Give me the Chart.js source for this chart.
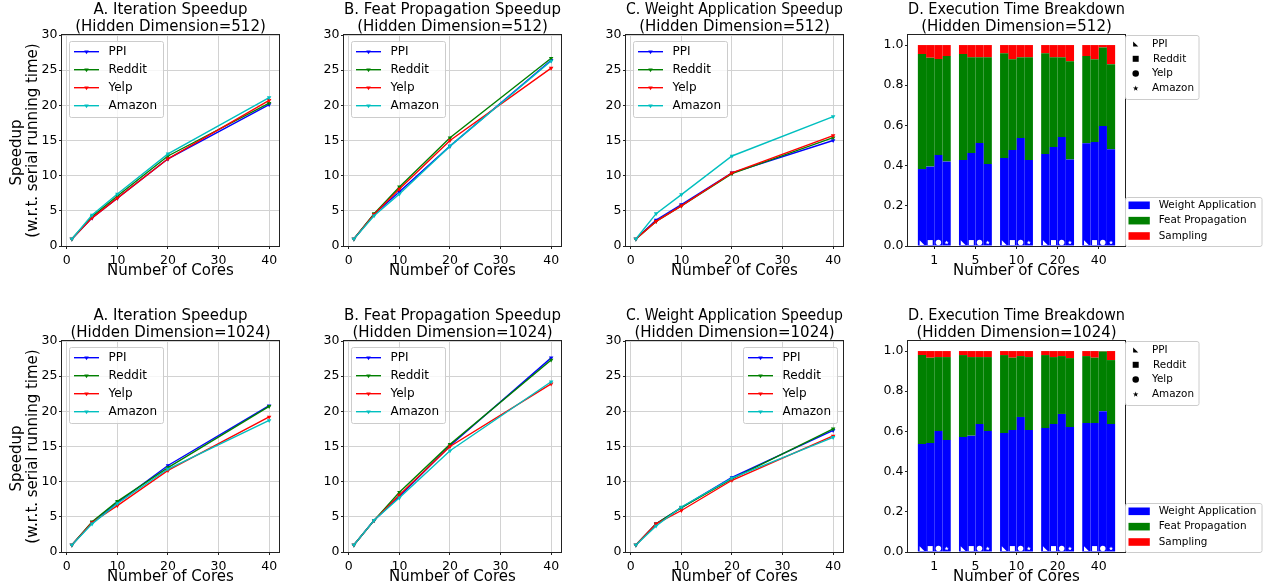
<!DOCTYPE html>
<html>
<head>
<meta charset="utf-8">
<script src="https://cdn.jsdelivr.net/npm/chart.js@4.4.0/dist/chart.umd.min.js"></script>
<style>
  html, body { margin: 0; padding: 0; background: #fff; overflow: hidden; }
  body { width: 1277px; height: 588px; position: relative; }
  canvas { position: absolute; }
</style>
</head>
<body>
<canvas id="iter512"></canvas>
<canvas id="feat512"></canvas>
<canvas id="weight512"></canvas>
<canvas id="break512"></canvas>
<canvas id="iter1024"></canvas>
<canvas id="feat1024"></canvas>
<canvas id="weight1024"></canvas>
<canvas id="break1024"></canvas>
<script>
const cores = [1, 5, 10, 20, 40];
const coreLabels = ['1', '5', '10', '20', '40'];
const graphs = ['PPI', 'Reddit', 'Yelp', 'Amazon'];
const lineColors = ['#0000ff', '#008000', '#ff0000', '#00bfbf'];
const partNames = ['Weight Application', 'Feat Propagation', 'Sampling'];
const partColors = ['#0000ff', '#008000', '#ff0000'];

// speedup per graph (rows follow graphs), one value per core count
const iterSpeedup512 = [
  [1, 4.0, 6.8, 12.4, 20.1],
  [1, 4.2, 7.1, 12.8, 20.3],
  [1, 4.0, 6.8, 12.4, 20.7],
  [1, 4.4, 7.4, 13.1, 21.1]
];
const featSpeedup512 = [
  [1, 4.5, 7.7, 14.2, 26.4],
  [1, 4.6, 8.4, 15.4, 26.7],
  [1, 4.5, 8.1, 15.0, 25.3],
  [1, 4.3, 7.4, 14.2, 26.3]
];
const weightSpeedup512 = [
  [1, 3.7, 5.9, 10.4, 15.0],
  [1, 3.5, 5.7, 10.3, 15.4],
  [1, 3.5, 5.7, 10.4, 15.7],
  [1, 4.6, 7.3, 12.8, 18.4]
];
const iterSpeedup1024 = [
  [1, 4.2, 7.0, 12.3, 20.8],
  [1, 4.3, 7.2, 12.0, 20.7],
  [1, 4.2, 6.6, 11.6, 19.2],
  [1, 4.0, 6.9, 11.8, 18.7]
];
const featSpeedup1024 = [
  [1, 4.5, 7.9, 15.1, 27.6],
  [1, 4.5, 8.5, 15.3, 27.3],
  [1, 4.5, 8.1, 15.0, 23.9],
  [1, 4.5, 7.7, 14.4, 24.2]
];
const weightSpeedup1024 = [
  [1, 4.0, 6.3, 10.6, 17.3],
  [1, 4.0, 6.3, 10.4, 17.5],
  [1, 4.0, 5.9, 10.2, 16.5],
  [1, 3.7, 6.4, 10.5, 16.3]
];

// execution time share per graph, one value per core count
const weightShare512 = [
  [0.383, 0.428, 0.438, 0.458, 0.511],
  [0.395, 0.463, 0.478, 0.493, 0.517],
  [0.453, 0.512, 0.537, 0.542, 0.597],
  [0.420, 0.408, 0.428, 0.431, 0.481]
];
const featShare512 = [
  [0.572, 0.527, 0.521, 0.501, 0.434],
  [0.542, 0.476, 0.451, 0.446, 0.412],
  [0.477, 0.427, 0.402, 0.397, 0.391],
  [0.525, 0.531, 0.511, 0.488, 0.424]
];
const samplingShare512 = [
  [0.045, 0.045, 0.041, 0.041, 0.055],
  [0.063, 0.061, 0.071, 0.061, 0.071],
  [0.070, 0.061, 0.061, 0.061, 0.012],
  [0.055, 0.061, 0.061, 0.081, 0.095]
];
const weightShare1024 = [
  [0.537, 0.572, 0.592, 0.617, 0.642],
  [0.542, 0.579, 0.607, 0.637, 0.642],
  [0.602, 0.637, 0.672, 0.687, 0.701],
  [0.557, 0.602, 0.607, 0.622, 0.637]
];
const featShare1024 = [
  [0.443, 0.408, 0.388, 0.363, 0.333],
  [0.425, 0.391, 0.360, 0.333, 0.325],
  [0.368, 0.333, 0.303, 0.288, 0.297],
  [0.413, 0.368, 0.363, 0.343, 0.318]
];
const samplingShare1024 = [
  [0.020, 0.020, 0.020, 0.020, 0.025],
  [0.033, 0.030, 0.033, 0.030, 0.033],
  [0.030, 0.030, 0.025, 0.025, 0.002],
  [0.030, 0.030, 0.030, 0.035, 0.045]
];

// layout of the 2x4 grid
const COLS = [
  { x: 0, w: 290, yW: 62, padR: 11 },
  { x: 290, w: 290, yW: 54, padR: 19 },
  { x: 580, w: 290, yW: 46, padR: 27 },
  { x: 860, w: 417, yW: 48, padR: 152 }
];
const ROWS = [0, 306];
const CANVAS_H = 290;
const X_AXIS_H = 44;

const FONT = "'DejaVu Sans', sans-serif";
Chart.defaults.font.family = FONT;
Chart.defaults.color = '#000';

const GRID = '#d2d2d2';
const SPINE = '#222';

function placeCanvas(id, col, row) {
  const c = document.getElementById(id);
  c.width = COLS[col].w;
  c.height = CANVAS_H;
  c.style.left = COLS[col].x + 'px';
  c.style.top = ROWS[row] + 'px';
  return c;
}

function triDown(ctx, x, y, r) {
  ctx.beginPath();
  ctx.moveTo(x - r * 0.866, y - r * 0.5);
  ctx.lineTo(x + r * 0.866, y - r * 0.5);
  ctx.lineTo(x, y + r);
  ctx.closePath();
  ctx.fill();
}

// marker per graph: PPI corner triangle, Reddit square, Yelp circle, Amazon star
function drawMarker(ctx, kind, x, y, r, color) {
  ctx.save();
  ctx.fillStyle = color;
  ctx.beginPath();
  if (kind === 0) {
    ctx.moveTo(x - r, y - r);
    ctx.lineTo(x - r, y + r);
    ctx.lineTo(x + r, y + r);
    ctx.closePath();
  } else if (kind === 1) {
    ctx.rect(x - r, y - r, 2 * r, 2 * r);
  } else if (kind === 2) {
    ctx.arc(x, y, r * 1.05, 0, Math.PI * 2);
  } else {
    const outer = r * 1.1, inner = r * 0.45;
    for (let k = 0; k < 10; k++) {
      const rad = k % 2 ? inner : outer;
      const ang = -Math.PI / 2 + k * Math.PI / 5;
      const px = x + rad * Math.cos(ang), py = y + rad * Math.sin(ang);
      k ? ctx.lineTo(px, py) : ctx.moveTo(px, py);
    }
    ctx.closePath();
  }
  ctx.fill();
  ctx.restore();
}

function legendBox(ctx, x, y, w, h) {
  ctx.save();
  ctx.beginPath();
  ctx.roundRect(x + 0.5, y + 0.5, w, h, 2);
  ctx.fillStyle = 'rgba(255,255,255,0.8)';
  ctx.fill();
  ctx.strokeStyle = '#cccccc';
  ctx.lineWidth = 1;
  ctx.stroke();
  ctx.restore();
}

const frame = {
  id: 'frame',
  afterDraw(chart) {
    const { ctx, chartArea: a } = chart;
    ctx.save();
    ctx.strokeStyle = SPINE;
    ctx.lineWidth = 1;
    ctx.strokeRect(a.left - 0.5, a.top - 0.5, a.right - a.left + 1, a.bottom - a.top + 1);
    ctx.restore();
  }
};

const lineLegend = {
  id: 'lineLegend',
  afterDraw(chart, args, opts) {
    const { ctx, chartArea: a } = chart;
    const w = 94, h = 76;
    const x = opts.side === 'right' ? a.right - 6 - w : a.left + 7;
    const y = a.top + 6;
    legendBox(ctx, x, y, w, h);
    ctx.save();
    ctx.font = '12px ' + FONT;
    ctx.textBaseline = 'middle';
    ctx.textAlign = 'left';
    chart.data.datasets.forEach((ds, i) => {
      const ry = y + 10.7 + i * 18;
      ctx.strokeStyle = ds.borderColor;
      ctx.lineWidth = 1.4;
      ctx.beginPath();
      ctx.moveTo(x + 5, ry);
      ctx.lineTo(x + 30, ry);
      ctx.stroke();
      ctx.fillStyle = ds.borderColor;
      triDown(ctx, x + 17.5, ry, 2.6);
      ctx.fillStyle = '#000';
      ctx.fillText(ds.label, x + 39.5, ry);
    });
    ctx.restore();
  }
};

const barMarkers = {
  id: 'barMarkers',
  afterDatasetsDraw(chart) {
    const { ctx } = chart;
    const y = chart.scales.y.getPixelForValue(0.017);
    const sizes = [2.35, 2.5, 2.6, 2.0];
    chart.data.datasets.forEach((ds, i) => {
      if (ds.part !== 0) return;
      chart.getDatasetMeta(i).data.forEach(bar => {
        drawMarker(ctx, ds.graphIndex, bar.x, y, sizes[ds.graphIndex], '#fff');
      });
    });
  }
};

const breakdownLegends = {
  id: 'breakdownLegends',
  afterDraw(chart) {
    const { ctx, chartArea: a } = chart;
    const sizes = [2.6, 3, 3.1, 2.6];
    ctx.save();
    ctx.font = '10.4px ' + FONT;
    ctx.textBaseline = 'middle';
    ctx.textAlign = 'left';

    let bx = a.right, by = a.top;
    legendBox(ctx, bx, by, 73.5, 64);
    graphs.forEach((g, i) => {
      const ry = by + 9 + i * 14.8;
      drawMarker(ctx, i, bx + 10.7, ry, sizes[i], '#000');
      ctx.fillStyle = '#000';
      ctx.fillText(g, bx + 27 + (i === 1 ? 1 : 0), ry);
    });

    by = a.bottom - 49;
    legendBox(ctx, bx, by, 136.5, 49);
    partNames.forEach((p, i) => {
      const ry = by + 8.3 + i * 15.35;
      ctx.fillStyle = partColors[i];
      ctx.fillRect(bx + 3.5, ry - 3.8, 21.3, 7.6);
      ctx.fillStyle = '#000';
      ctx.fillText(p, bx + 33.7, ry);
    });
    ctx.restore();
  }
};

function xAxis(extra) {
  return Object.assign({
    type: 'linear',
    afterFit: s => { s.height = X_AXIS_H; },
    border: { display: false },
    title: {
      display: true, text: 'Number of Cores',
      font: { size: 15 }, padding: { top: 0, bottom: 10 }
    }
  }, extra);
}

function lineChart(id, col, row, title, series, side) {
  const canvas = placeCanvas(id, col, row);
  const c = COLS[col];
  return new Chart(canvas, {
    type: 'line',
    data: {
      datasets: graphs.map((g, i) => ({
        label: g,
        data: cores.map((x, j) => ({ x, y: series[i][j] })),
        borderColor: lineColors[i],
        backgroundColor: lineColors[i],
        borderWidth: 1.4,
        pointStyle: 'triangle',
        pointRotation: 180,
        pointRadius: 2.6,
        pointBorderWidth: 0,
        tension: 0,
        order: graphs.length - i
      }))
    },
    options: {
      responsive: false,
      animation: false,
      devicePixelRatio: 1,
      layout: { padding: { left: 0, right: c.padR, top: 0, bottom: 0 } },
      plugins: {
        legend: { display: false },
        tooltip: { enabled: false },
        title: {
          display: true, text: title, fullSize: false,
          font: { size: 15, weight: 'normal', lineHeight: 1.1 },
          padding: { top: 2, bottom: 0 }
        },
        lineLegend: { side }
      },
      scales: {
        x: xAxis({
          min: -0.95, max: 41.95,
          ticks: { stepSize: 10, includeBounds: false, font: { size: 12.5 }, padding: 4, maxRotation: 0 },
          grid: { color: GRID, tickColor: SPINE, tickLength: 3 }
        }),
        y: {
          min: 0, max: 30,
          afterFit: s => { s.width = c.yW; },
          ticks: { stepSize: 5, includeBounds: false, font: { size: 12.5 }, padding: 1.5 },
          grid: { color: GRID, tickColor: SPINE, tickLength: 3 },
          border: { display: false },
          title: {
            display: col === 0,
            // trailing spaces keep the first line offset like the original label
            text: ['Speedup     ', '(w.r.t. serial running time)'],
            font: { size: 15, lineHeight: 1.1 },
            padding: { top: 8.5, bottom: 0 }
          }
        }
      }
    },
    plugins: [frame, lineLegend]
  });
}

function breakdownChart(id, row, title, weight, feat, sampling) {
  const canvas = placeCanvas(id, 3, row);
  const c = COLS[3];
  const parts = [weight, feat, sampling];
  const datasets = [];
  graphs.forEach((g, gi) => {
    parts.forEach((p, pi) => {
      datasets.push({
        label: partNames[pi],
        data: p[gi].map((v, j) => ({ x: j, y: v })),
        backgroundColor: partColors[pi],
        borderWidth: 0,
        stack: g,
        graphIndex: gi,
        part: pi,
        categoryPercentage: 0.8,
        barPercentage: 1.0
      });
    });
  });
  return new Chart(canvas, {
    type: 'bar',
    data: { datasets },
    options: {
      responsive: false,
      animation: false,
      devicePixelRatio: 1,
      layout: { padding: { left: 0, right: c.padR, top: 0, bottom: 0 } },
      plugins: {
        legend: { display: false },
        tooltip: { enabled: false },
        title: {
          display: true, text: title, fullSize: false,
          font: { size: 15, weight: 'normal', lineHeight: 1.1 },
          padding: { top: 2, bottom: 0 }
        }
      },
      scales: {
        x: xAxis({
          min: -0.64, max: 4.64, offset: false, stacked: true,
          ticks: {
            stepSize: 1, includeBounds: false, font: { size: 12.5 }, padding: 4, maxRotation: 0,
            callback: v => coreLabels[v] ?? ''
          },
          grid: { offset: false, drawOnChartArea: false, tickColor: SPINE, tickLength: 3 }
        }),
        y: {
          stacked: true, min: 0, max: 1.05,
          afterFit: s => { s.width = c.yW; },
          ticks: { stepSize: 0.2, includeBounds: false, font: { size: 12.5 }, padding: 1.5,
            callback: v => v.toFixed(1) },
          grid: { drawOnChartArea: false, tickColor: SPINE, tickLength: 3 },
          border: { display: false }
        }
      }
    },
    plugins: [barMarkers, frame, breakdownLegends]
  });
}

lineChart('iter512', 0, 0, ['A. Iteration Speedup', '(Hidden Dimension=512)'], iterSpeedup512, 'left');
lineChart('feat512', 1, 0, ['B. Feat Propagation Speedup', '(Hidden Dimension=512)'], featSpeedup512, 'left');
lineChart('weight512', 2, 0, ['C. Weight Application Speedup', '(Hidden Dimension=512)'], weightSpeedup512, 'left');
breakdownChart('break512', 0, ['D. Execution Time Breakdown', '(Hidden Dimension=512)'],
  weightShare512, featShare512, samplingShare512);

lineChart('iter1024', 0, 1, ['A. Iteration Speedup', '(Hidden Dimension=1024)'], iterSpeedup1024, 'left');
lineChart('feat1024', 1, 1, ['B. Feat Propagation Speedup', '(Hidden Dimension=1024)'], featSpeedup1024, 'left');
lineChart('weight1024', 2, 1, ['C. Weight Application Speedup', '(Hidden Dimension=1024)'], weightSpeedup1024, 'right');
breakdownChart('break1024', 1, ['D. Execution Time Breakdown', '(Hidden Dimension=1024)'],
  weightShare1024, featShare1024, samplingShare1024);
</script>
</body>
</html>
